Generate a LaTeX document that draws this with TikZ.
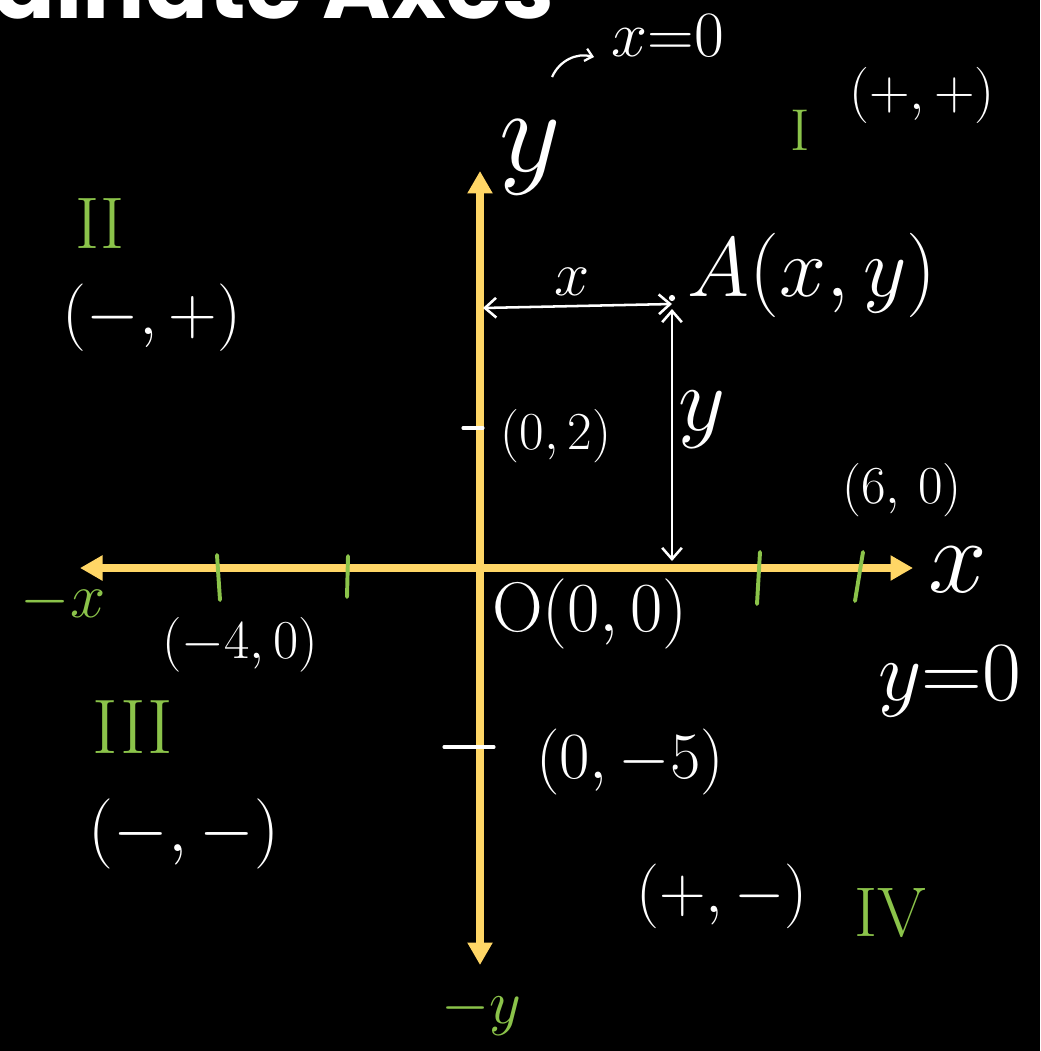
\documentclass[tikz,border=0pt]{standalone}
\usepackage{fix-cm}
\usepackage{fontspec}
\newfontfamily\titlefont{Poppins}
\usetikzlibrary{arrows.meta}

\definecolor{axisyellow}{RGB}{255,214,102}
\definecolor{quadgreen}{RGB}{139,195,74}

\tikzset{
  hand/.style={text=white, inner sep=0pt, font=\fontsize{#1}{#1}\selectfont},
  quad/.style={text=quadgreen, inner sep=0pt, font=\fontsize{#1}{#1}\selectfont},
  axisline/.style={axisyellow, line width=5.7pt, {Triangle[length=16pt,width=17pt]}-{Triangle[length=16pt,width=17pt]}},
  measarrow/.style={white, line width=1.8pt, {Straight Barb[length=8pt,width=14pt]}-{Straight Barb[length=8pt,width=14pt]}},
  greentick/.style={quadgreen, line width=2.8pt, line cap=round},
}

\begin{document}
\begin{tikzpicture}[x=0.025cm,y=-0.025cm]
  % Background
  \useasboundingbox (0,0) rectangle (1040,1051);
  \fill[black] (0,0) rectangle (1040,1051);
  \clip (0,0) rectangle (1040,1051);

  % Title (cut at the top)
  \node[anchor=base east, text=white, inner sep=0pt, font=\titlefont\bfseries\fontsize{66}{66}\selectfont] (title) at (555,19) {Coordinate Axes};

  % Axes
  \coordinate (xl) at (80,568);
  \coordinate (xr) at (913,568);
  \coordinate (yt) at (480,171);
  \coordinate (yb) at (480,965);
  \draw[axisline] (xl) -- (xr);
  \draw[axisline] (yt) -- (yb);

  % Ticks
  \foreach \xt/\xb/\yt/\yb in {217/220/555/600, 348/347/556/597, 760/757/552/604, 863/855/552/601}
    \draw[greentick] (\xt,\yt) -- (\xb,\yb);
  \draw[white, line width=2.2pt, line cap=round] (463,428) -- (483,428);
  \draw[white, line width=2.2pt, line cap=round] (444,747) -- (494,747);

  % Axis names
  \node[hand=85] (ylab) at (530,157) {$y$};
  \node[hand=46] (xzero) at (668,36) {$x{=}0$};
  \coordinate (c1) at (552,77);
  \coordinate (c2) at (594,57);
  \draw[white, line width=1.6pt, -{Straight Barb[length=5pt,width=9pt]}] (c1) to[bend left=40] (c2);
  \node[hand=75] (xlab) at (958,570) {$x$};
  \node[hand=60] (yzero) at (950,682) {$y{=}0$};
  \node[quad=45] (nx) at (63,602) {$-x$};
  \node[quad=44] (ny) at (481,1011) {$-y$};

  % Quadrants
  \node[quad=42] (q1) at (800,130) {I};
  \node[quad=52] (q2) at (100,224) {II};
  \node[quad=55] (q3) at (133,727) {III};
  \node[quad=50] (q4) at (890,913) {IV};
  \node[hand=40] (s1) at (922,95) {$(+,+)$};
  \node[hand=48] (s2) at (152,318) {$(-,+)$};
  \node[hand=50] (s3) at (184,834) {$(-,-)$};
  \node[hand=46] (s4) at (722,896) {$(+,-)$};

  % Points
  \node[hand=50] (O) at (590,614) {$\mathrm{O}(0,0)$};
  \node[hand=38] (p02) at (556,436) {$(0,2)$};
  \node[hand=38] (p60) at (902,490) {$(6,\,0)$};
  \node[hand=39] (pm40) at (240,645) {$(-4,0)$};
  \node[hand=47] (p0m5) at (630,762) {$(0,-5)$};

  % Point A and its distances
  \coordinate (A) at (672,298);
  \fill[white] (A) circle (2.2pt);
  \node[hand=60] (Alab) at (812,275) {$A(x,y)$};
  \coordinate (Ay) at (483,308);
  \coordinate (Ae) at (672,304);
  \coordinate (As) at (672,309);
  \coordinate (Ax) at (672,561);
  \draw[measarrow] (Ay) -- (Ae);
  \draw[measarrow] (As) -- (Ax);
  \node[hand=45] (xd) at (572,282) {$x$};
  \node[hand=65] (yd) at (702,420) {$y$};
\end{tikzpicture}
\end{document}
